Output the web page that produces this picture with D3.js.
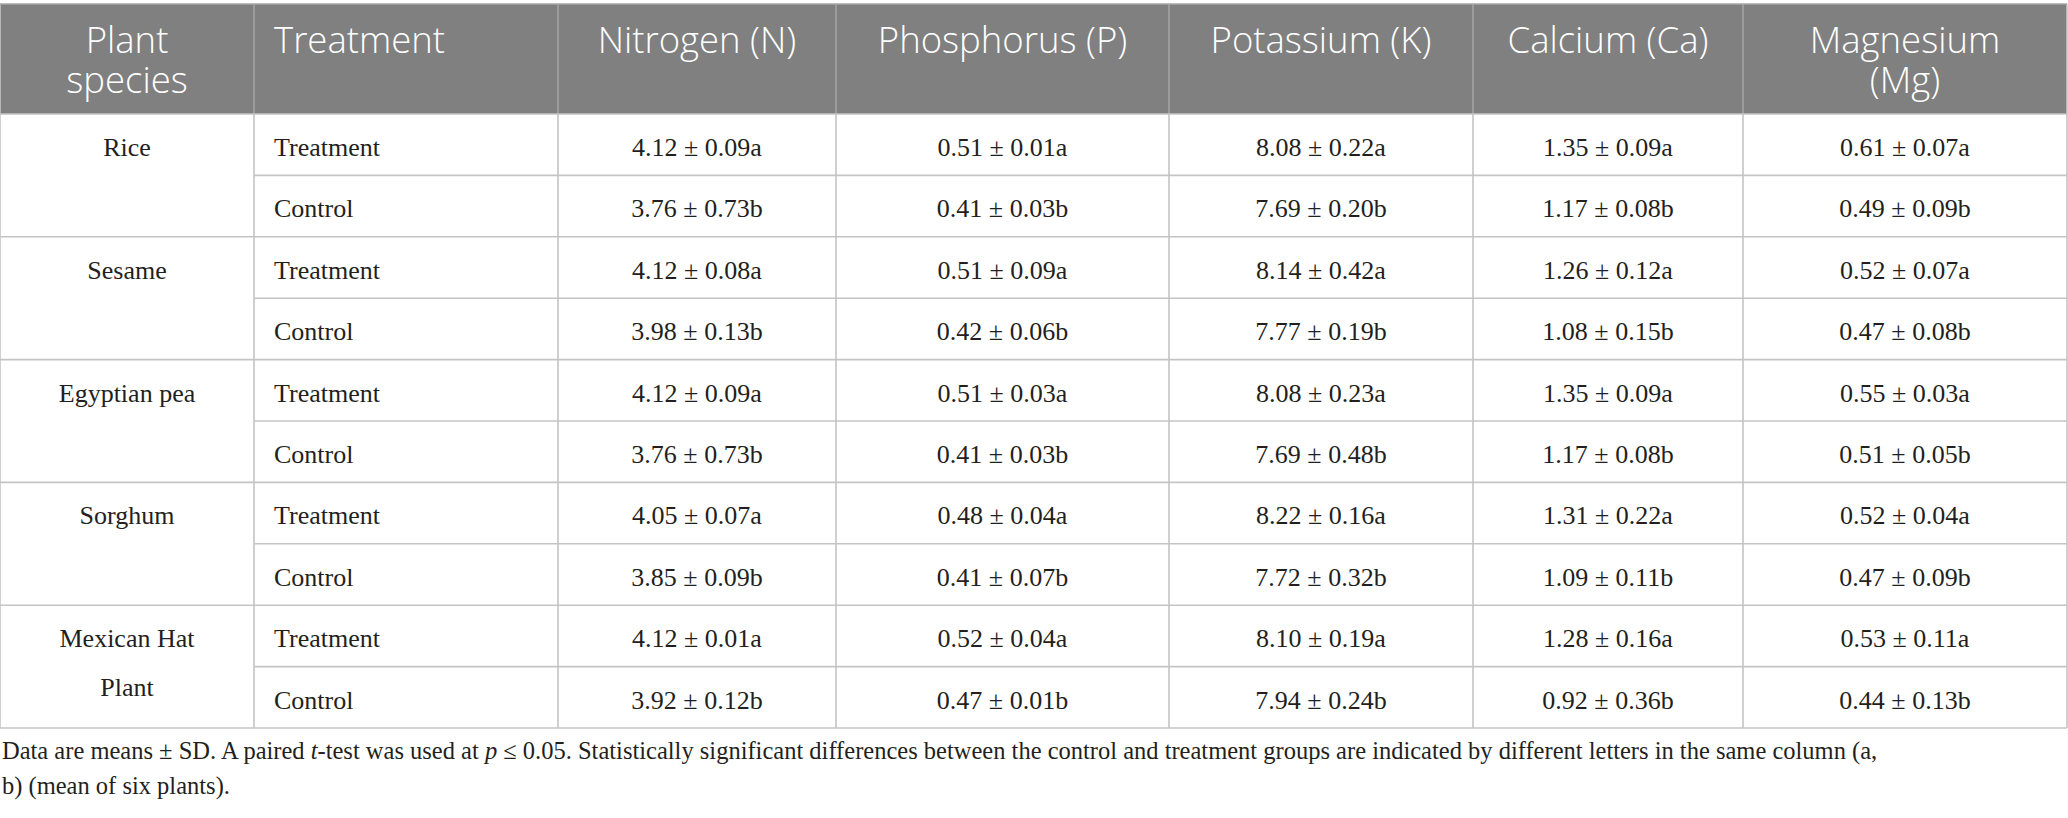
<!DOCTYPE html>
<html>
<head>
  <meta charset="utf-8">
  <script src="https://cdnjs.cloudflare.com/ajax/libs/d3/7.8.5/d3.min.js"></script>
  <style>
    body, html {
      margin: 0;
      padding: 0;
      background: #ffffff;
      overflow: hidden;
    }
    .head { font-family: "Open Sans", "Noto Sans", sans-serif; font-size: 36.5px; fill: #ffffff; font-weight: 300; }
    .cell { font-family: "Liberation Serif", "DejaVu Serif", serif; font-size: 26px; fill: #231f20; }
    .note { font-family: "Liberation Serif", "DejaVu Serif", serif; font-size: 24.5px; fill: #231f20; }
  </style>
</head>
<body>
<div id="chart"></div>
<script>
// table content
const columnLabels = [["Plant", "species"], ["Treatment"], ["Nitrogen (N)"], ["Phosphorus (P)"],
                      ["Potassium (K)"], ["Calcium (Ca)"], ["Magnesium", "(Mg)"]];
const species = [["Rice"], ["Sesame"], ["Egyptian pea"], ["Sorghum"], ["Mexican Hat", "Plant"]];
const groups = ["Treatment", "Control"];
const letters = ["a", "b"];

// one value per row: Rice T, Rice C, Sesame T, Sesame C, ... Mexican Hat C
const nitrogenMean   = [4.12, 3.76, 4.12, 3.98, 4.12, 3.76, 4.05, 3.85, 4.12, 3.92];
const nitrogenSD     = [0.09, 0.73, 0.08, 0.13, 0.09, 0.73, 0.07, 0.09, 0.01, 0.12];
const phosphorusMean = [0.51, 0.41, 0.51, 0.42, 0.51, 0.41, 0.48, 0.41, 0.52, 0.47];
const phosphorusSD   = [0.01, 0.03, 0.09, 0.06, 0.03, 0.03, 0.04, 0.07, 0.04, 0.01];
const potassiumMean  = [8.08, 7.69, 8.14, 7.77, 8.08, 7.69, 8.22, 7.72, 8.10, 7.94];
const potassiumSD    = [0.22, 0.20, 0.42, 0.19, 0.23, 0.48, 0.16, 0.32, 0.19, 0.24];
const calciumMean    = [1.35, 1.17, 1.26, 1.08, 1.35, 1.17, 1.31, 1.09, 1.28, 0.92];
const calciumSD      = [0.09, 0.08, 0.12, 0.15, 0.09, 0.08, 0.22, 0.11, 0.16, 0.36];
const magnesiumMean  = [0.61, 0.49, 0.52, 0.47, 0.55, 0.51, 0.52, 0.47, 0.53, 0.44];
const magnesiumSD    = [0.07, 0.09, 0.07, 0.08, 0.03, 0.05, 0.04, 0.09, 0.11, 0.13];

const noteLines = [
  [["Data are means ± SD. A paired ", false], ["t", true], ["-test was used at ", false], ["p", true],
   [" ≤ 0.05. Statistically significant differences between the control and treatment groups are indicated by different letters in the same column (a,", false]],
  [["b) (mean of six plants).", false]]
];

const width = 2068, height = 818;
const colEdges = [0, 254, 558, 836, 1169, 1473, 1743, 2067];
const headTop = 4, headBottom = 114, tableBottom = 728;
const nRows = species.length * groups.length;

const svg = d3.select("#chart").append("svg")
  .attr("width", width)
  .attr("height", height);

const y = d3.scaleLinear().domain([0, nRows]).range([headBottom, tableBottom]);
const colX = i => colEdges[i];
const colMid = i => (colEdges[i] + colEdges[i + 1]) / 2;

const fmt = d3.format(".2f");
const nutrients = [
  [nitrogenMean, nitrogenSD], [phosphorusMean, phosphorusSD], [potassiumMean, potassiumSD],
  [calciumMean, calciumSD], [magnesiumMean, magnesiumSD]
];

// header band
svg.append("rect")
  .attr("x", colX(0)).attr("y", headTop)
  .attr("width", colX(7) - colX(0)).attr("height", headBottom - headTop)
  .attr("fill", "#808080");

const head = svg.append("g");
columnLabels.forEach((lines, i) => {
  const left = i === 1;
  const t = head.append("text")
    .attr("class", "head")
    .attr("text-anchor", left ? "start" : "middle");
  lines.forEach((ln, k) => {
    t.append("tspan")
      .attr("x", left ? colX(i) + 20 : colMid(i))
      .attr("y", headTop + 49 + k * 40)
      .text(ln);
  });
});

// header column separators
svg.append("g").selectAll("line")
  .data(d3.range(1, 7))
  .join("line")
    .attr("x1", d => colX(d)).attr("x2", d => colX(d))
    .attr("y1", headTop).attr("y2", headBottom)
    .attr("stroke", "#a6a6a6").attr("stroke-width", 1.5);

// body grid
const grid = svg.append("g").attr("stroke", "#c4c4c4").attr("stroke-width", 1.6);
// horizontal lines: full width at group boundaries, from col 1 inside groups
d3.range(0, nRows + 1).forEach(r => {
  const x0 = (r % 2 === 0) ? colX(0) : colX(1);
  grid.append("line")
    .attr("x1", x0).attr("x2", colX(7))
    .attr("y1", y(r)).attr("y2", y(r));
});
colEdges.forEach((cx, i) => {
  grid.append("line")
    .attr("x1", cx).attr("x2", cx)
    .attr("y1", i === 0 || i === 7 ? headTop : headBottom).attr("y2", tableBottom);
});
grid.append("line")
  .attr("x1", colX(0)).attr("x2", colX(7))
  .attr("y1", headTop).attr("y2", headTop)
  .attr("stroke", "#a6a6a6");

const body = svg.append("g");

// species cells
species.forEach((lines, s) => {
  const t = body.append("text")
    .attr("class", "cell")
    .attr("text-anchor", "middle");
  lines.forEach((ln, k) => {
    t.append("tspan")
      .attr("x", colMid(0))
      .attr("y", y(s * 2) + 42 + k * 49)
      .text(ln);
  });
});

// treatment / control labels and values
d3.range(nRows).forEach(r => {
  const g = r % 2;
  body.append("text")
    .attr("class", "cell")
    .attr("x", colX(1) + 20)
    .attr("y", y(r) + 42)
    .text(groups[g]);
  nutrients.forEach(([mean, sd], j) => {
    body.append("text")
      .attr("class", "cell")
      .attr("text-anchor", "middle")
      .attr("x", colMid(j + 2))
      .attr("y", y(r) + 42)
      .text(`${fmt(mean[r])} ± ${fmt(sd[r])}${letters[g]}`);
  });
});

// footnote
noteLines.forEach((parts, k) => {
  const t = svg.append("text")
    .attr("class", "note")
    .attr("x", 2)
    .attr("y", 759 + k * 35);
  parts.forEach(([s, it]) => {
    t.append("tspan")
      .attr("font-style", it ? "italic" : null)
      .text(s);
  });
});
</script>
</body>
</html>
